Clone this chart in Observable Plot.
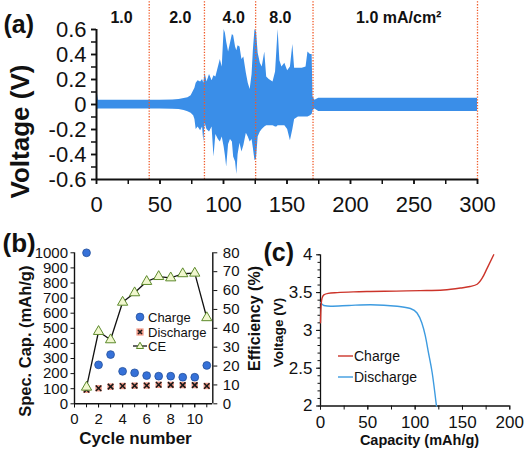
<!DOCTYPE html>
<html><head><meta charset="utf-8">
<script src="https://cdn.jsdelivr.net/npm/d3@7"></script>
<script src="https://cdn.jsdelivr.net/npm/@observablehq/plot@0.6"></script>
<style>
body{margin:0;background:#fff;font-family:"Liberation Sans",Arial,sans-serif}
#wrap{position:relative;width:524px;height:450px;overflow:hidden;background:#fff}
#wrap > svg, #wrap > figure{position:absolute;margin:0}
.leg{position:absolute;display:flex;align-items:center;height:16px;line-height:1;color:#111;white-space:nowrap}
.leg svg{display:block}
</style></head><body><div id="wrap"></div>
<script>
// ---------- Panel (a): voltage envelope vs time ----------
const timeA = [0,0.6,1.5,10,20,30,41,50,60,65,
  69,72,74.5,76.5,77.5,78.5,80,82,83.5,84.5,
  85.5,87,89,91,92.5,94,96,97.5,99,100.5,
  101.5,102.5,104,105.5,107,108,109.5,110.5,111.5,113,
  114.5,116,118,119.5,121,122.5,123.5,124.8,126,127.3,
  129,130.5,132.5,134,136,139,141,142,143,144.4,
  146,148.3,150.5,152.7,154.6,156,159,162,165,166.5,
  168.5,169.8,170.5,172,175,200,230,260,300];
const upperA = [0.10,0.10,0.035,0.035,0.035,0.035,0.035,0.035,0.037,0.04,
  0.048,0.055,0.07,0.11,0.13,0.17,0.19,0.18,0.2,0.17,
  0.25,0.18,0.24,0.19,0.23,0.22,0.3,0.36,0.3,0.6,
  0.57,0.5,0.42,0.49,0.56,0.55,0.46,0.43,0.47,0.46,
  0.36,0.38,0.25,0.17,0.12,0.24,0.43,0.6,0.58,0.41,
  0.33,0.3,0.42,0.22,0.2,0.18,0.26,0.43,0.6,0.35,
  0.3,0.33,0.27,0.3,0.48,0.29,0.29,0.29,0.3,0.42,
  0.4,0.4,0.06,0.035,0.05,0.05,0.05,0.05,0.05];
const lowerA = [-0.04,-0.04,-0.035,-0.035,-0.035,-0.035,-0.035,-0.035,-0.037,-0.04,
  -0.048,-0.058,-0.07,-0.09,-0.12,-0.2,-0.18,-0.21,-0.18,-0.3,
  -0.15,-0.2,-0.22,-0.18,-0.42,-0.24,-0.28,-0.3,-0.26,-0.34,
  -0.41,-0.5,-0.32,-0.28,-0.3,-0.42,-0.46,-0.56,-0.4,-0.31,
  -0.38,-0.33,-0.23,-0.26,-0.3,-0.28,-0.35,-0.45,-0.43,-0.26,
  -0.22,-0.2,-0.18,-0.17,-0.17,-0.17,-0.18,-0.18,-0.17,-0.17,
  -0.17,-0.17,-0.2,-0.29,-0.2,-0.12,-0.1,-0.1,-0.1,-0.1,
  -0.09,-0.08,-0.05,-0.035,-0.055,-0.055,-0.055,-0.055,-0.055];
const boundariesA = [41.5, 85, 125.3, 170.5, 300];
const stageLabelsA = ["1.0", "2.0", "4.0", "8.0", "1.0 mA/cm²"];
const stageLabelXA = [19.7, 66, 108, 144.8, 238];
const xTicksA = [0, 50, 100, 150, 200, 250, 300];
const xMinorA = [0, 25, 50, 75, 100, 125, 150, 175, 200, 225, 250, 275, 300];
const yTicksA = [-0.6, -0.4, -0.2, 0, 0.2, 0.4, 0.6];
const yMinorA = [-0.6,-0.5,-0.4,-0.3,-0.2,-0.1,0,0.1,0.2,0.3,0.4,0.5,0.6];

// ---------- Panel (b): capacity and efficiency vs cycle ----------
const cyclesB = [1, 2, 3, 4, 5, 6, 7, 8, 9, 10, 11];
const chargeB = [1000, 258, 326, 215, 205, 187, 183, 183, 176, 176, 254];
const dischargeB = [93, 103, 114, 118, 120, 121, 126, 125, 124, 124, 118];
const ceB = [8.8, 38.3, 33.9, 53.8, 58.8, 64.8, 67.4, 66.7, 68.9, 69.2, 45.6];
const xTicksB = [0, 2, 4, 6, 8, 10];
const xMinorB = [0, 1, 2, 3, 4, 5, 6, 7, 8, 9, 10, 11];
const yTicksB = [0, 100, 200, 300, 400, 500, 600, 700, 800, 900, 1000];
const effTicksB = [0, 10, 20, 30, 40, 50, 60, 70, 80];

// ---------- Panel (c): voltage profile ----------
const chargeCapC = [0, 0.5, 1.5, 3.5, 8, 17.6, 35, 52.8, 80, 105.6, 130, 147.9, 158, 165.5, 170.8, 176, 183];
const chargeVC   = [3.1, 3.3, 3.42, 3.47, 3.49, 3.50, 3.51, 3.515, 3.52, 3.526, 3.535, 3.56, 3.58, 3.61, 3.69, 3.82, 4.0];
const dischargeCapC = [0, 3.5, 10.6, 30, 52.8, 81, 95, 102, 107, 110.7, 114, 118, 122.5];
const dischargeVC   = [3.37, 3.33, 3.32, 3.33, 3.34, 3.32, 3.29, 3.23, 3.1, 2.93, 2.71, 2.44, 2.0];
const xTicksC = [0, 50, 100, 150, 200];
const xMinorC = [0, 25, 50, 75, 100, 125, 150, 175, 200];
const yTicksC = [2, 2.5, 3, 3.5, 4];
const yMinorC = [2,2.1,2.2,2.3,2.4,2.5,2.6,2.7,2.8,2.9,3,3.1,3.2,3.3,3.4,3.5,3.6,3.7,3.8,3.9,4];

const FONT = '"Liberation Sans", Arial, sans-serif';
const baseStyle = {fontFamily: FONT, background: "transparent", overflow: "visible", color: "#111"};
const blank = () => "";
const plain = d => String(d);
const wrap = document.getElementById("wrap");

function place(el, left, top) {
  el.style.left = left + "px"; el.style.top = top + "px"; el.style.position = "absolute";
  wrap.appendChild(el);
}
// title helper: centered text placed relative to the frame's top-left corner
function title(str, dx, dy, size, opts = {}) {
  return Plot.text([str], Object.assign({frameAnchor: "top-left", dx, dy, text: d => d, fontSize: size,
    fontWeight: "bold", fill: "#111", textAnchor: "middle", lineAnchor: "middle"}, opts));
}

// ---------- Plot (a) ----------
const plotA = Plot.plot({
  width: 524, height: 225,
  marginLeft: 96, marginRight: 47, marginTop: 29, marginBottom: 46,
  x: {domain: [0, 300]}, y: {domain: [-0.6, 0.6]},
  style: baseStyle,
  marks: [
    Plot.areaY(timeA, {x: d => d, y1: (d, i) => lowerA[i], y2: (d, i) => upperA[i], fill: "#3a8ee8", curve: "linear"}),
    Plot.ruleX(boundariesA, {x: d => d, y1: () => -0.6, y2: () => 0.835, stroke: "#f05a28", strokeWidth: 1.3, strokeDasharray: "1.3,1.5"}),
    Plot.text(stageLabelsA, {x: (d, i) => stageLabelXA[i], y: () => 0.69, text: d => d, fontSize: 16, fontWeight: "bold", fill: "#111"}),
    Plot.axisX({ticks: xMinorA, tickSize: 5, tickFormat: blank, label: null, strokeWidth: 1.5}),
    Plot.axisX({ticks: xTicksA, tickSize: 5, tickPadding: 12, fontSize: 22, label: null, strokeWidth: 1.5, tickFormat: plain}),
    Plot.axisY({ticks: yMinorA, tickSize: 5, tickFormat: blank, label: null, strokeWidth: 1.5}),
    Plot.axisY({ticks: yTicksA, tickSize: 5, tickPadding: 5, fontSize: 22, label: null, strokeWidth: 1.5,
      tickFormat: d => Math.abs(d) < 1e-9 ? "0" : d.toFixed(1)}),
    Plot.ruleX([0], {stroke: "#111", strokeWidth: 2}),
    Plot.ruleY([-0.6], {stroke: "#111", strokeWidth: 2}),
    title("Voltage (V)", -76, 102, 26, {rotate: -90}),
    title("(a)", -93, -5, 25, {textAnchor: "start"})
  ]
});
place(plotA, 0, 0);

// ---------- Plot (b) ----------
const effScale = 1000 / 80;
const plotB = Plot.plot({
  width: 270, height: 225,
  marginLeft: 74, marginRight: 57.7, marginTop: 27.3, marginBottom: 46.7,
  x: {domain: [0, 11.5]}, y: {domain: [0, 1000]},
  style: baseStyle,
  marks: [
    Plot.axisX({ticks: xMinorB, tickSize: 4, tickFormat: blank, label: null}),
    Plot.axisX({ticks: xTicksB, tickSize: 4, tickPadding: 6, fontSize: 15, label: null, tickFormat: plain}),
    Plot.axisY({ticks: yTicksB, tickSize: 3.5, tickPadding: 3, fontSize: 15, label: null, tickFormat: plain}),
    Plot.axisY({anchor: "right", ticks: effTicksB.map(v => v * effScale), tickSize: 4, tickPadding: 6, fontSize: 15, label: null,
      tickFormat: d => String(Math.round(d / effScale))}),
    Plot.ruleX([0, 11.5], {stroke: "#111", strokeWidth: 1.4}),
    Plot.ruleY([0], {stroke: "#111", strokeWidth: 1.4}),
    Plot.dot(cyclesB, {x: d => d, y: (d, i) => dischargeB[i], symbol: "square", r: 3.6, fill: "#f39a88", stroke: "none"}),
    Plot.dot(cyclesB, {x: d => d, y: (d, i) => dischargeB[i], symbol: "times", r: 2.6, stroke: "#1a1a1a", strokeWidth: 1.6}),
    Plot.line(cyclesB, {x: d => d, y: (d, i) => ceB[i] * effScale, stroke: "#111", strokeWidth: 1.3}),
    Plot.dot(cyclesB, {x: d => d, y: (d, i) => ceB[i] * effScale, symbol: "triangle", r: 3.8, fill: "#f1f7cf", stroke: "#5d8a2c", strokeWidth: 1}),
    Plot.dot(cyclesB, {x: d => d, y: (d, i) => chargeB[i], r: 3.9, fill: "#3671d8", stroke: "#24509a", strokeWidth: 0.8}),
    title("Spec. Cap. (mAh/g)", -49, 88.4, 16.5, {rotate: -90}),
    title("Efficiency (%)", 180, 65.7, 16, {rotate: -90}),
    title("Cycle number", 61, 185.7, 17),
    title("(b)", -72, -9.3, 26, {textAnchor: "start"})
  ]
});
place(plotB, 0, 225);

// ---------- Plot (c) ----------
const plotC = Plot.plot({
  width: 266, height: 225,
  marginLeft: 62, marginRight: 14.7, marginTop: 29.3, marginBottom: 44.5,
  x: {domain: [0, 200]}, y: {domain: [2, 4]},
  style: baseStyle,
  marks: [
    Plot.axisX({ticks: xMinorC, tickSize: 4, tickFormat: blank, label: null}),
    Plot.axisX({ticks: xTicksC, tickSize: 4, tickPadding: 6, fontSize: 17, label: null, tickFormat: plain}),
    Plot.axisY({ticks: yMinorC, tickSize: 2.5, tickFormat: blank, label: null}),
    Plot.axisY({ticks: yTicksC, tickSize: 4, tickPadding: 4, fontSize: 17, label: null, tickFormat: plain}),
    Plot.ruleX([0], {stroke: "#111", strokeWidth: 1.3}),
    Plot.ruleY([2], {stroke: "#111", strokeWidth: 1.3}),
    Plot.line(dischargeCapC, {x: d => d, y: (d, i) => dischargeVC[i], stroke: "#3d9be0", strokeWidth: 1.4, curve: "monotone-x"}),
    Plot.line(chargeCapC, {x: d => d, y: (d, i) => chargeVC[i], stroke: "#cc342a", strokeWidth: 1.4, curve: "monotone-x"}),
    title("Voltage (V)", -42, 77.7, 13.5, {rotate: -90}),
    title("Capacity (mAh/g)", 99, 185.7, 14.5),
    title("(c)", -57, -2.3, 25, {textAnchor: "start"})
  ]
});
place(plotC, 258, 225);

// ---------- Legends ----------
function legendRow(left, top, symbolSvg, label, size) {
  const d = document.createElement("div");
  d.className = "leg";
  d.style.fontSize = size + "px";
  d.innerHTML = symbolSvg + "<span>" + label + "</span>";
  place(d, left, top);
}
legendRow(134, 309, '<svg width="14" height="16"><circle cx="6" cy="8" r="3.9" fill="#3671d8" stroke="#24509a" stroke-width="0.8"/></svg>', "Charge", 13);
legendRow(134, 324, '<svg width="14" height="16"><rect x="2.4" y="4.4" width="7.2" height="7.2" fill="#f39a88"/><path d="M4 6L8 10M8 6L4 10" stroke="#1a1a1a" stroke-width="1.6"/></svg>', "Discharge", 13);
legendRow(132, 338, '<svg width="16" height="16"><line x1="1" y1="8" x2="15" y2="8" stroke="#111" stroke-width="1.3"/><path d="M8 4.2L11.6 10.5L4.4 10.5Z" fill="#f1f7cf" stroke="#5d8a2c" stroke-width="1"/></svg>', "CE", 13);
legendRow(337, 347.7, '<svg width="17" height="16"><line x1="1" y1="8" x2="16" y2="8" stroke="#cc342a" stroke-width="1.4"/></svg>', "Charge", 14);
legendRow(337, 368.7, '<svg width="17" height="16"><line x1="1" y1="8" x2="16" y2="8" stroke="#3d9be0" stroke-width="1.4"/></svg>', "Discharge", 14);
</script>
</body></html>
